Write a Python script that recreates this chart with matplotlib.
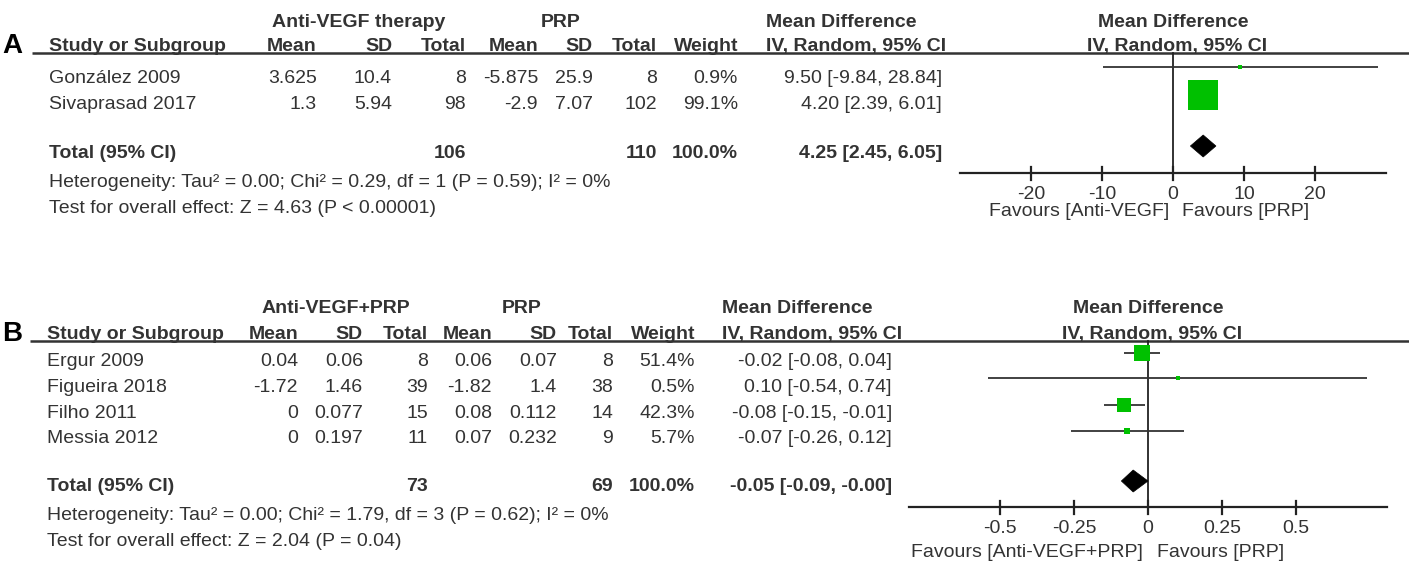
import matplotlib
matplotlib.use("Agg")
import matplotlib.pyplot as plt
from matplotlib.patches import Polygon

plt.rcParams['font.family'] = ['Liberation Sans', 'DejaVu Sans']

# ---------------- data: panel A ----------------
A_group1 = "Anti-VEGF therapy"
A_group2 = "PRP"
A_studies = ["González 2009", "Sivaprasad 2017"]
A_mean1 = [3.625, 1.3]
A_sd1 = [10.4, 5.94]
A_n1 = [8, 98]
A_mean2 = [-5.875, -2.9]
A_sd2 = [25.9, 7.07]
A_n2 = [8, 102]
A_weight = [0.9, 99.1]
A_md = [9.50, 4.20]
A_lo = [-9.84, 2.39]
A_hi = [28.84, 6.01]
A_total = (106, 110, 100.0, 4.25, 2.45, 6.05)
A_het = "Heterogeneity: Tau² = 0.00; Chi² = 0.29, df = 1 (P = 0.59); I² = 0%"
A_test = "Test for overall effect: Z = 4.63 (P < 0.00001)"
A_ticks = [-20, -10, 0, 10, 20]
A_tick_labels = ["-20", "-10", "0", "10", "20"]
A_fav = ("Favours [Anti-VEGF]", "Favours [PRP]")

# ---------------- data: panel B ----------------
B_group1 = "Anti-VEGF+PRP"
B_group2 = "PRP"
B_studies = ["Ergur 2009", "Figueira 2018", "Filho 2011", "Messia 2012"]
B_mean1 = [0.04, -1.72, 0, 0]
B_sd1 = [0.06, 1.46, 0.077, 0.197]
B_n1 = [8, 39, 15, 11]
B_mean2 = [0.06, -1.82, 0.08, 0.07]
B_sd2 = [0.07, 1.4, 0.112, 0.232]
B_n2 = [8, 38, 14, 9]
B_weight = [51.4, 0.5, 42.3, 5.7]
B_md = [-0.02, 0.10, -0.08, -0.07]
B_lo = [-0.08, -0.54, -0.15, -0.26]
B_hi = [0.04, 0.74, -0.01, 0.12]
B_total = (73, 69, 100.0, -0.05, -0.09, -0.0)
B_het = "Heterogeneity: Tau² = 0.00; Chi² = 1.79, df = 3 (P = 0.62); I² = 0%"
B_test = "Test for overall effect: Z = 2.04 (P = 0.04)"
B_ticks = [-0.5, -0.25, 0, 0.25, 0.5]
B_tick_labels = ["-0.5", "-0.25", "0", "0.25", "0.5"]
B_fav = ("Favours [Anti-VEGF+PRP]", "Favours [PRP]")

col_headers = ["Mean", "SD", "Total", "Mean", "SD", "Total", "Weight"]

W, H = 1409, 572
fig = plt.figure(figsize=(W / 100, H / 100), dpi=100)
canvas = fig.add_axes([0, 0, 1, 1])
canvas.set_xlim(0, W)
canvas.set_ylim(H, 0)
canvas.axis("off")

TXT = "#333333"
FS = 14
GREEN = "#00c000"


def T(x, y, s, ha="left", bold=False, size=FS, color=TXT):
    canvas.text(x, y, s, ha=ha, va="baseline", fontsize=size,
                fontweight="bold" if bold else "normal", color=color)


def draw_panel(cfg):
    L = cfg
    # panel letter
    T(2, L["hdr_base"] + 2, L["letter"], bold=True, size=20, color="black")
    # group headers
    T(L["g1_cx"], L["grp_base"], L["group1"], ha="center", bold=True)
    T(L["g2_cx"], L["grp_base"], L["group2"], ha="center", bold=True)
    T(L["md_left"], L["grp_base"], "Mean Difference", bold=True)
    # column header row
    T(L["study_x"], L["hdr_base"], "Study or Subgroup", bold=True)
    for xr, h in zip(L["col_right"], col_headers):
        T(xr, L["hdr_base"], h, ha="right", bold=True)
    T(L["md_left"], L["hdr_base"], "IV, Random, 95% CI", bold=True)
    # header rule
    canvas.plot([L["rule_x0"], W], [L["rule_y"], L["rule_y"]], color=TXT, lw=1.8,
                solid_capstyle="butt")
    # study rows
    d = L["data"]
    for i, name in enumerate(d["studies"]):
        yb = L["row_base"][i]
        T(L["study_x"], yb, name)
        vals = [f"{d['mean1'][i]:g}", f"{d['sd1'][i]:g}", f"{d['n1'][i]}",
                f"{d['mean2'][i]:g}", f"{d['sd2'][i]:g}", f"{d['n2'][i]}",
                f"{d['weight'][i]:.1f}%"]
        for xr, v in zip(L["col_right"], vals):
            T(xr, yb, v, ha="right")
        T(L["md_right"], yb,
          f"{d['md'][i]:.2f} [{d['lo'][i]:.2f}, {d['hi'][i]:.2f}]", ha="right")
    # total row
    n1, n2, wt, md, lo, hi = d["total"]
    yb = L["tot_base"]
    T(L["study_x"], yb, "Total (95% CI)", bold=True)
    T(L["col_right"][2], yb, f"{n1}", ha="right", bold=True)
    T(L["col_right"][5], yb, f"{n2}", ha="right", bold=True)
    T(L["col_right"][6], yb, f"{wt:.1f}%", ha="right", bold=True)
    T(L["md_right"], yb, f"{md:.2f} [{lo:.2f}, {hi:.2f}]", ha="right", bold=True)
    T(L["study_x"], L["het_base"], d["het"])
    T(L["study_x"], L["test_base"], d["test"])

    # ---------- forest plot ----------
    x0, x1 = L["ax_px"]
    ax = fig.add_axes([x0 / W, 0, (x1 - x0) / W, 1])
    ax.set_xlim(-L["xmax"], L["xmax"])
    ax.set_ylim(H, 0)
    ax.axis("off")
    # forest headers
    T(L["f_cx"], L["grp_base"], "Mean Difference", ha="center", bold=True)
    T(L["f_cx"] + 4, L["hdr_base"], "IV, Random, 95% CI", ha="center", bold=True)
    # zero line
    ax.plot([0, 0], [L["rule_y"], L["axis_y"]], color="#222222", lw=1.3, clip_on=False)
    # CI lines and squares
    for i in range(len(d["studies"])):
        y = L["mark_y"][i]
        ax.plot([d["lo"][i], d["hi"][i]], [y, y], color="#333333", lw=1.3,
                clip_on=False, solid_capstyle="butt")
        side = max(L["k"] * d["weight"][i] ** 0.5, 3.5)
        ax.plot([d["md"][i]], [y], marker="s", ms=side * 0.72, mfc=GREEN,
                mec=GREEN, mew=0, ls="none", clip_on=False, zorder=3)
    # diamond
    yd = L["diam_y"]
    hh = 11
    ax.add_patch(Polygon([[lo, yd], [md, yd - hh], [hi, yd], [md, yd + hh]],
                         closed=True, fc="black", ec="black", lw=0.5,
                         clip_on=False, zorder=4))
    # axis
    ay = L["axis_y"]
    ax.plot([-L["xmax"], L["xmax"]], [ay, ay], color="#222222", lw=1.6, clip_on=False)
    for t, lab in zip(L["ticks"], L["tick_labels"]):
        ax.plot([t, t], [ay - 6, ay + 7], color="#222222", lw=1.6, clip_on=False)
        ax.text(t, L["tick_base"], lab, ha="center", va="baseline", fontsize=FS,
                color=TXT)
    T(L["fav_l"], L["fav_base"], d["fav"][0], ha="right")
    T(L["fav_r"], L["fav_base"], d["fav"][1], ha="left")


panelA = dict(
    letter="A", group1=A_group1, group2=A_group2,
    g1_cx=359, g2_cx=561, grp_base=27, hdr_base=51, study_x=49,
    col_right=[317, 392, 466, 538, 593, 657, 738],
    md_left=766, md_right=942, rule_x0=32, rule_y=53,
    row_base=[83, 109], tot_base=158, het_base=187, test_base=213,
    ax_px=(960, 1386), xmax=30, f_cx=1173,
    mark_y=[67, 95], diam_y=146, axis_y=173, k=3.0,
    ticks=A_ticks, tick_labels=A_tick_labels, tick_base=199,
    fav_l=1169, fav_r=1182, fav_base=216,
    data=dict(studies=A_studies, mean1=A_mean1, sd1=A_sd1, n1=A_n1,
              mean2=A_mean2, sd2=A_sd2, n2=A_n2, weight=A_weight,
              md=A_md, lo=A_lo, hi=A_hi, total=A_total, het=A_het,
              test=A_test, fav=A_fav),
)

panelB = dict(
    letter="B", group1=B_group1, group2=B_group2,
    g1_cx=336, g2_cx=522, grp_base=313, hdr_base=339, study_x=47,
    col_right=[298, 363, 428, 492, 557, 613, 695],
    md_left=722, md_right=892, rule_x0=30, rule_y=341,
    row_base=[366, 392, 418, 443], tot_base=491, het_base=520, test_base=546,
    ax_px=(909, 1387), xmax=0.807, f_cx=1148,
    mark_y=[353, 378, 405, 431], diam_y=481, axis_y=507, k=2.25,
    ticks=B_ticks, tick_labels=B_tick_labels, tick_base=533,
    fav_l=1143, fav_r=1157, fav_base=557,
    data=dict(studies=B_studies, mean1=B_mean1, sd1=B_sd1, n1=B_n1,
              mean2=B_mean2, sd2=B_sd2, n2=B_n2, weight=B_weight,
              md=B_md, lo=B_lo, hi=B_hi, total=B_total, het=B_het,
              test=B_test, fav=B_fav),
)

draw_panel(panelA)
draw_panel(panelB)

fig.savefig("out.png", dpi=100, facecolor="white")
